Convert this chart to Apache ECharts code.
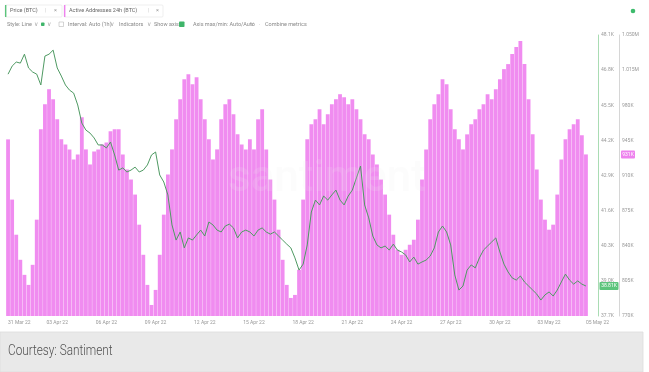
<!DOCTYPE html>
<html>
<head>
<meta charset="utf-8">
<script src="https://cdn.jsdelivr.net/npm/echarts/dist/echarts.min.js"></script>
<style>
html,body{margin:0;padding:0;background:#fff;}
#chart{width:649px;height:372px;}
</style>
</head>
<body>
<div id="chart"></div>
<script>
// ---- data (6-hourly samples, 31 Mar 2022 -> 05 May 2022) ----
const startTime = Date.UTC(2022, 2, 31);
const stepHours = 6;
const tickLabels = ['31 Mar 22','03 Apr 22','06 Apr 22','09 Apr 22','12 Apr 22','15 Apr 22','18 Apr 22','21 Apr 22','24 Apr 22','27 Apr 22','30 Apr 22','03 May 22','05 May 22'];

// Active Addresses 24h (BTC), thousands
const activeAddresses = [
 946,886,851,826,811,801,821,866,956,981,996,986,966,946,941,936,926,931,968,936,
 921,934,936,941,943,954,956,956,931,916,906,891,861,831,801,781,796,831,871,911,
 936,966,986,1006,1011,1001,1008,986,966,946,926,936,966,981,986,971,951,941,936,946,
 936,966,976,936,906,886,856,826,801,788,791,816,886,946,961,966,976,961,971,981,
 986,991,988,981,986,976,966,951,946,931,921,906,891,871,851,836,831,836,841,846,
 866,906,936,966,981,991,1006,1001,976,956,946,936,951,961,966,976,981,991,986,996,
 1006,1016,1021,1031,1038,1044,1021,986,951,916,886,866,856,861,891,926,946,956,961,966,
 950,931
];

// Price (BTC), USD
const priceBTC = [
 46650,46950,47100,47060,47390,46880,46730,46650,46250,47320,47390,47540,46880,46580,46250,46060,45950,45510,44840,44580,
 44470,44290,44030,44030,43920,44140,43660,43100,43180,43030,43100,43210,43030,43100,43290,43660,43770,42920,42660,42180,
 41070,40510,40810,40220,40590,40510,40700,40880,40660,41180,41070,40880,40810,41030,41100,40960,40590,40810,40880,40810,
 40660,40880,40960,40810,40730,40810,40660,40510,40360,40220,39850,39400,39620,40330,41550,41990,41810,42140,41990,42180,
 42360,41990,41810,42140,42360,42810,43250,41810,41330,40660,40330,40220,40290,40140,40360,40140,40070,39960,39700,39880,
 39620,39700,39770,39920,40220,40810,41030,40810,40330,39220,38660,38810,39400,39590,39480,39850,40140,40290,40440,40590,
 40070,39620,39330,39110,39030,39180,38960,38810,38660,38510,38290,38480,38590,38440,38660,38960,39250,39030,38880,39000,
 38880,38810
];

const categories = [];
for (let i = 0; i < priceBTC.length; i++) {
  const d = new Date(startTime + i * stepHours * 3600e3);
  categories.push(d.toISOString().slice(0, 16));
}

const chart = echarts.init(document.getElementById('chart'), null, {renderer: 'canvas'});
const small = {fontFamily: 'Roboto', fontSize: 5.5, fill: '#888'};

function t(x, y, text, extra) {
  return {type: 'text', left: x, top: y, silent: true, style: Object.assign({}, small, {text: text}, extra || {})};
}

const toolbar = [
  // tab 1
  {type: 'rect', shape: {x: 5, y: 5, width: 57, height: 12, r: 1}, style: {fill: '#fff', stroke: '#e4e4e4', lineWidth: 0.6}},
  {type: 'rect', shape: {x: 5, y: 5, width: 1.4, height: 12}, style: {fill: '#5cc47c'}},
  t(10, 8, 'Price (BTC)', {fill: '#666'}),
  t(45, 8, '|', {fill: '#ccc'}),
  t(54, 8, '×', {fill: '#999'}),
  // tab 2
  {type: 'rect', shape: {x: 64, y: 5, width: 99, height: 12, r: 1}, style: {fill: '#fff', stroke: '#e4e4e4', lineWidth: 0.6}},
  {type: 'rect', shape: {x: 64, y: 5, width: 1.4, height: 12}, style: {fill: '#ee82ee'}},
  t(69, 8, 'Active Addresses 24h (BTC)', {fill: '#666'}),
  t(148, 8, '|', {fill: '#ccc'}),
  t(156, 8, '×', {fill: '#999'}),
  // row 2
  t(7, 22, 'Style: Line'),
  t(34, 22, '∨', {fill: '#aaa'}),
  {type: 'rect', shape: {x: 41, y: 22.5, width: 3.5, height: 3.5, r: 0.8}, style: {fill: '#3fb56a'}},
  t(47, 22, '∨', {fill: '#aaa'}),
  {type: 'rect', shape: {x: 59, y: 22, width: 4.5, height: 4.5}, style: {fill: '#fff', stroke: '#aaa', lineWidth: 0.5}},
  t(68, 22, 'Interval: Auto (1h)'),
  t(110, 22, '∨', {fill: '#aaa'}),
  t(119, 22, 'Indicators'),
  t(147, 22, '∨', {fill: '#aaa'}),
  t(154, 22, 'Show axis'),
  {type: 'rect', shape: {x: 179, y: 21.5, width: 5.5, height: 5.5, r: 0.8}, style: {fill: '#3fb56a'}},
  t(193, 22, 'Axis max/min: Auto/Auto'),
  t(250, 22, '∨', {fill: '#aaa'}),
  t(259, 22, '·', {fill: '#aaa'}),
  t(265, 22, 'Combine metrics'),
  {type: 'circle', shape: {cx: 633, cy: 11, r: 2.3}, style: {fill: '#3dbb6c'}},
  // watermark
  {type: 'text', left: 228, top: 158, silent: true, z: 20,
   style: {text: 'santiment', fontFamily: 'Roboto', fontSize: 44, fontWeight: 500, fill: 'rgba(235,235,235,0.16)'}},
  // courtesy footer
  {type: 'rect', shape: {x: 0, y: 332, width: 643, height: 40}, style: {fill: '#e9e9e9', stroke: '#dcdcdc', lineWidth: 0.8}},
  {type: 'text', x: 8, y: 351, scaleX: 0.84, silent: true,
   style: {text: 'Courtesy: Santiment', fontFamily: 'Roboto', fontWeight: 300, fontSize: 14, fill: '#505050', verticalAlign: 'middle'}}
];

const option = {
  animation: false,
  backgroundColor: '#fff',
  grid: {left: 6, right: 61, top: 35, bottom: 56, containLabel: false},
  xAxis: {
    type: 'category',
    data: categories,
    boundaryGap: true,
    axisLine: {show: false},
    axisTick: {show: false},
    splitLine: {show: false},
    axisLabel: {
      interval: 11,
      showMinLabel: true,
      showMaxLabel: true,
      alignMinLabel: 'left',
      alignMaxLabel: 'left',
      margin: 4,
      fontFamily: 'Roboto',
      fontSize: 5,
      color: '#999',
      formatter: function (v, idx) {
        if (idx === categories.length - 1) return tickLabels[tickLabels.length - 1];
        return tickLabels[Math.round(idx / 12)] || '';
      }
    }
  },
  yAxis: [
    {
      type: 'value', position: 'right', offset: 10,
      min: 37700, max: 48100, interval: 1300,
      axisLine: {show: true, lineStyle: {color: '#a9dcb3', width: 1}},
      axisTick: {show: false},
      splitLine: {show: false},
      axisLabel: {margin: 3, fontFamily: 'Roboto', fontSize: 5, color: '#999',
        formatter: v => (v / 1000).toFixed(1) + 'K'}
    },
    {
      type: 'value', position: 'right', offset: 31,
      min: 770, max: 1050, interval: 35,
      axisLine: {show: true, lineStyle: {color: '#d6d6d6', width: 1}},
      axisTick: {show: false},
      splitLine: {show: false},
      axisLabel: {margin: 3, fontFamily: 'Roboto', fontSize: 5, color: '#999',
        formatter: v => v >= 1000 ? (v / 1000).toFixed(3) + 'M' : v + 'K'}
    }
  ],
  series: [
    {
      name: 'Active Addresses 24h (BTC)', type: 'bar', yAxisIndex: 1,
      data: activeAddresses, barCategoryGap: '7%', clip: true,
      itemStyle: {color: '#f08cf0'}, z: 1
    },
    {
      name: 'Price (BTC)', type: 'line', yAxisIndex: 0,
      data: priceBTC, symbol: 'none', smooth: false,
      lineStyle: {color: '#4f9a63', width: 1}, z: 3
    }
  ],
  graphic: toolbar
};
chart.setOption(option);

// current-value tags on the axes, positioned via the library's scales
const lastPrice = priceBTC[priceBTC.length - 1];
const lastAA = activeAddresses[activeAddresses.length - 1];
const py = chart.convertToPixel({yAxisIndex: 0}, lastPrice);
const ay = chart.convertToPixel({yAxisIndex: 1}, lastAA);
chart.setOption({graphic: toolbar.concat([
  {type: 'rect', shape: {x: 599.5, y: py - 4, width: 19, height: 8, r: 1}, style: {fill: '#5cc47c'}, z: 30},
  {type: 'text', x: 609, y: py, z: 31, style: {text: (lastPrice / 1000).toFixed(2) + 'K', fontFamily: 'Roboto', fontSize: 5, fill: '#fff', align: 'center', verticalAlign: 'middle'}},
  {type: 'rect', shape: {x: 621, y: ay - 4, width: 14, height: 8, r: 1}, style: {fill: '#ee82ee'}, z: 30},
  {type: 'text', x: 628, y: ay, z: 31, style: {text: lastAA + 'K', fontFamily: 'Roboto', fontSize: 5, fill: '#fff', align: 'center', verticalAlign: 'middle'}}
])});
</script>
</body>
</html>
